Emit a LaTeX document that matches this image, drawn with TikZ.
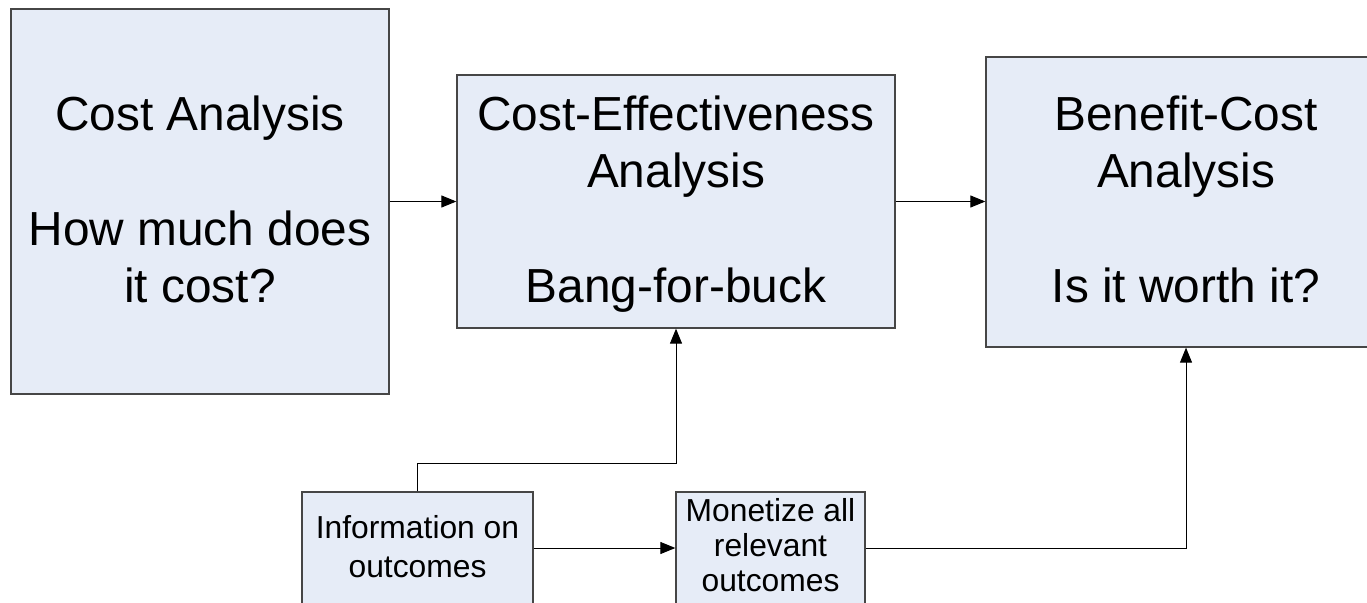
\documentclass[tikz,border=0pt]{standalone}
\usepackage{fontspec}
\setmainfont{Liberation Sans}
\usetikzlibrary{arrows.meta}
\definecolor{boxfill}{RGB}{230,236,247}
\definecolor{boxline}{RGB}{70,70,70}
\begin{document}
\begin{tikzpicture}[x=1pt,y=-1pt,
  panel/.style={draw=boxline, line width=1.3pt, fill=boxfill, inner sep=0pt},
  bigtext/.style={inner sep=0pt, anchor=base, font=\fontsize{47.8}{57}\selectfont},
  smalltext/.style={inner sep=0pt, anchor=base, font=\fontsize{31.8}{38}\selectfont},
  conn/.style={draw=black, line width=1pt, -{Triangle[length=15pt,width=12pt]}}]
  \useasboundingbox (0,0) rectangle (1367,602);

  % boxes
  \node[panel, minimum width=378pt, minimum height=385pt] (ca)   at (200,201.5)   {};
  \node[panel, minimum width=438pt, minimum height=253pt] (cea)  at (676,201.5)   {};
  \node[panel, minimum width=400pt, minimum height=290pt] (bca)  at (1186,202)    {};
  \node[panel, minimum width=231pt, minimum height=112pt] (info) at (417.5,548)   {};
  \node[panel, minimum width=189pt, minimum height=112pt] (mon)  at (770.5,548)   {};

  % Cost analysis
  \node[bigtext] (ca1) at (ca |- 0,130) {Cost Analysis};
  \node[bigtext] (ca2) at (ca |- 0,245) {How much does};
  \node[bigtext] (ca3) at (ca |- 0,302) {it cost?};

  % Cost-effectiveness analysis
  \node[bigtext] (cea1) at (cea |- 0,130) {Cost-Effectiveness};
  \node[bigtext] (cea2) at (cea |- 0,187) {Analysis};
  \node[bigtext] (cea3) at (cea |- 0,302) {Bang-for-buck};

  % Benefit-cost analysis
  \node[bigtext] (bca1) at (bca |- 0,130) {Benefit-Cost};
  \node[bigtext] (bca2) at (bca |- 0,187) {Analysis};
  \node[bigtext] (bca3) at (bca |- 0,302) {Is it worth it?};

  % lower boxes
  \node[smalltext] (info1) at (info |- 0,538) {Information on};
  \node[smalltext] (info2) at (info |- 0,577) {outcomes};
  \node[smalltext] (mon1) at (mon |- 0,521) {Monetize all};
  \node[smalltext] (mon2) at (mon |- 0,556) {relevant};
  \node[smalltext] (mon3) at (mon |- 0,591) {outcomes};

  % connectors
  \coordinate (bend) at (676,463);
  \draw[conn] (ca.east) -- (cea.west);
  \draw[conn] (cea.east) -- (cea.east -| bca.west);
  \draw[conn] (info.north) |- (bend) -- (cea.south);
  \draw[conn] (info.east) -- (mon.west);
  \draw[conn] (mon.east) -| (bca.south);
\end{tikzpicture}
\end{document}
